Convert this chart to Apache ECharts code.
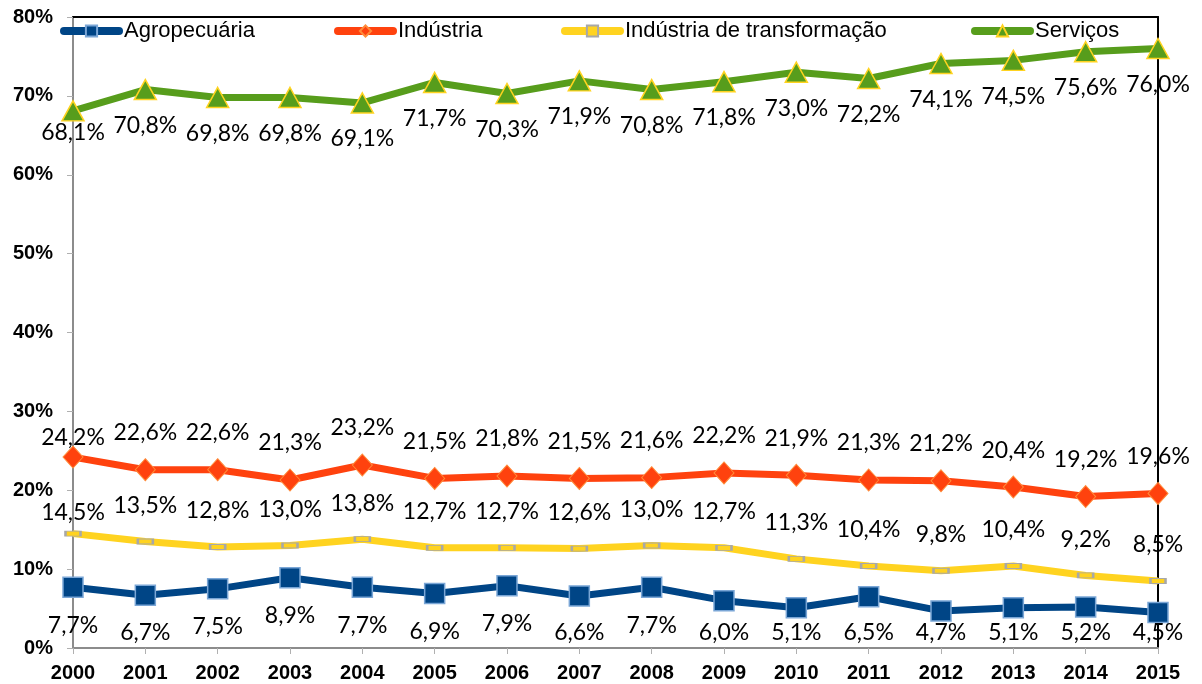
<!DOCTYPE html>
<html>
<head>
<meta charset="utf-8">
<style>
  html, body { margin: 0; padding: 0; background: #ffffff; }
  #main { width: 1202px; height: 684px; }
</style>
<script src="https://cdn.jsdelivr.net/npm/echarts@6/dist/echarts.min.js"></script>
</head>
<body>
<div id="main"></div>
<script>
// anos (eixo x)
var anos = ['2000', '2001', '2002', '2003', '2004', '2005', '2006', '2007',
  '2008', '2009', '2010', '2011', '2012', '2013', '2014', '2015'];

// participação no PIB (%)
var agropecuaria = [7.7, 6.7, 7.5, 8.9, 7.7, 6.9, 7.9, 6.6, 7.7, 6.0, 5.1, 6.5, 4.7, 5.1, 5.2, 4.5];
var industria = [24.2, 22.6, 22.6, 21.3, 23.2, 21.5, 21.8, 21.5, 21.6, 22.2, 21.9, 21.3, 21.2, 20.4, 19.2, 19.6];
var transformacao = [14.5, 13.5, 12.8, 13.0, 13.8, 12.7, 12.7, 12.6, 13.0, 12.7, 11.3, 10.4, 9.8, 10.4, 9.2, 8.5];
var servicos = [68.1, 70.8, 69.8, 69.8, 69.1, 71.7, 70.3, 71.9, 70.8, 71.8, 73.0, 72.2, 74.1, 74.5, 75.6, 76.0];

var yTicks = [0, 10, 20, 30, 40, 50, 60, 70, 80];

var myChart = echarts.init(document.getElementById('main'));

function pct(v) {
  return v.toFixed(1).replace('.', ',') + '%';
}

// monta os pontos, com deslocamento do rótulo (o primeiro fica mais perto)
function pontos(arr, dy, dyFirst) {
  return arr.map(function (v, i) {
    return {
      value: v,
      label: { offset: [0, i === 0 && dyFirst != null ? dyFirst : dy] }
    };
  });
}

var labelBase = {
  show: true,
  position: 'inside',
  fontFamily: 'Lato',
  fontSize: 23,
  color: '#000000',
  formatter: function (p) { return pct(p.value); }
};

function legenda(nome, left) {
  return {
    data: [nome],
    left: left,
    top: 20,
    itemWidth: 55,
    itemHeight: 14,
    padding: 0,
    textStyle: { fontFamily: 'Liberation Sans', fontSize: 22, color: '#000000' },
    lineStyle: { width: 8, cap: 'round' }
  };
}

var option = {
  backgroundColor: '#ffffff',
  animation: false,
  legend: [
    legenda('Agropecuária', 60),
    legenda('Indústria', 334),
    legenda('Indústria de transformação', 561),
    legenda('Serviços', 971)
  ],
  grid: { left: 73, right: 44, top: 17, bottom: 36 },
  xAxis: [{
    type: 'category',
    data: anos,
    boundaryGap: false,
    axisLine: { lineStyle: { color: '#8c8c8c', width: 2 } },
    axisTick: { show: true, length: 6, lineStyle: { color: '#b0b0b0' } },
    axisLabel: {
      margin: 15,
      fontFamily: 'Liberation Sans',
      fontWeight: 'bold',
      fontSize: 20,
      color: '#000000'
    },
    splitLine: { show: false }
  }, {
    type: 'category',
    data: anos,
    boundaryGap: false,
    position: 'top',
    axisLine: { onZero: false, lineStyle: { color: '#000000', width: 2 } },
    axisTick: { show: false },
    axisLabel: { show: false },
    splitLine: { show: false }
  }],
  yAxis: [{
    type: 'value',
    min: yTicks[0],
    max: yTicks[yTicks.length - 1],
    interval: 10,
    axisLine: { show: true, lineStyle: { color: '#8c8c8c', width: 2 } },
    axisTick: { show: true, length: 6, lineStyle: { color: '#b0b0b0' } },
    axisLabel: {
      margin: 20,
      fontFamily: 'Liberation Sans',
      fontWeight: 'bold',
      fontSize: 20,
      color: '#000000',
      formatter: '{value}%'
    },
    splitLine: { show: false }
  }, {
    type: 'value',
    min: yTicks[0],
    max: yTicks[yTicks.length - 1],
    interval: 10,
    position: 'right',
    axisLine: { show: true, onZero: false, lineStyle: { color: '#000000', width: 2 } },
    axisTick: { show: false },
    axisLabel: { show: false },
    splitLine: { show: false }
  }],
  series: [{
    name: 'Agropecuária',
    type: 'line',
    symbol: 'rect',
    symbolSize: 20,
    lineStyle: { color: '#004586', width: 7 },
    itemStyle: { color: '#004586', borderColor: '#7aa6d6', borderWidth: 1.5 },
    label: labelBase,
    data: pontos(agropecuaria, 38)
  }, {
    name: 'Indústria',
    type: 'line',
    symbol: 'diamond',
    symbolSize: [20, 22],
    lineStyle: { color: '#ff420e', width: 7 },
    itemStyle: { color: '#ff420e', borderColor: '#ff8c3a', borderWidth: 1 },
    label: labelBase,
    data: pontos(industria, -37, -20)
  }, {
    name: 'Indústria de transformação',
    type: 'line',
    symbol: 'rect',
    symbolSize: [15, 5],
    lineStyle: { color: '#ffd320', width: 7 },
    itemStyle: { color: '#ffd320', borderColor: '#a8a8a8', borderWidth: 1.5 },
    label: labelBase,
    data: pontos(transformacao, -36, -21)
  }, {
    name: 'Serviços',
    type: 'line',
    symbol: 'triangle',
    symbolSize: [22, 20],
    lineStyle: { color: '#579d1c', width: 7 },
    itemStyle: { color: '#579d1c', borderColor: '#ffd320', borderWidth: 1.5 },
    label: labelBase,
    data: pontos(servicos, 36, 22)
  }]
};

myChart.setOption(option);

// rótulos da agropecuária não descem abaixo de uma linha perto do eixo
var limiteRotulo = 633;
var agroData = agropecuaria.map(function (v) {
  var y = myChart.convertToPixel({ yAxisIndex: 0 }, v);
  return { value: v, label: { offset: [0, Math.min(38, limiteRotulo - y)] } };
});
myChart.setOption({ series: [{ name: 'Agropecuária', data: agroData }] });
</script>
</body>
</html>
